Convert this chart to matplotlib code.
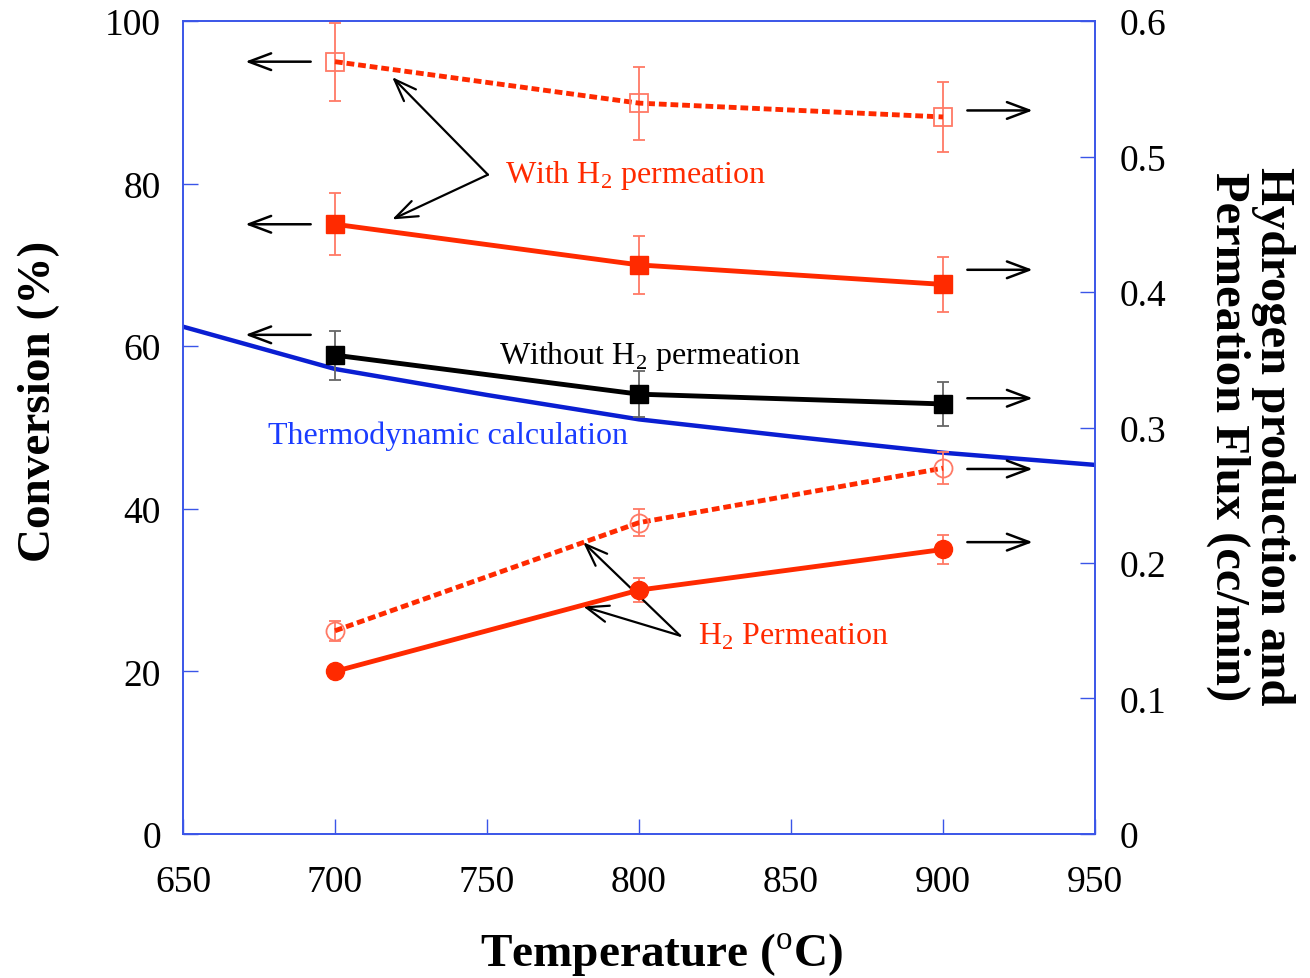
import numpy as np
import matplotlib.pyplot as plt

plt.rcParams["font.family"] = ["Liberation Serif", "DejaVu Serif"]
plt.rcParams["mathtext.fontset"] = "custom"
plt.rcParams["mathtext.rm"] = "Liberation Serif"

# Data
temp = [700, 800, 900]

conv_with = [95.0, 89.9, 88.2]          # open squares, dotted
conv_with_err = [4.8, 4.5, 4.3]
prod_with = [75.0, 70.0, 67.6]          # filled squares, solid
prod_with_err = [3.8, 3.6, 3.4]
without = [58.9, 54.1, 52.9]            # black squares
without_err = [3.0, 2.8, 2.7]
perm_open = [25.0, 38.3, 45.0]          # open circles, dotted
perm_open_err = [1.2, 1.7, 2.0]
perm_fill = [20.0, 30.0, 35.0]          # filled circles, solid
perm_fill_err = [0.5, 1.5, 1.8]

thermo_t = [650, 700, 750, 800, 850, 900, 950]
thermo = [62.4, 57.2, 54.0, 51.0, 48.9, 46.9, 45.4]

red = "#ff2a00"
red_err = "#ff7a66"
blue = "#0a1ed2"
axblue = "#3a55e8"

fig = plt.figure(figsize=(13.10, 9.79), dpi=100)
ax = fig.add_axes([0.1397, 0.1471, 0.6962, 0.8304])

# Thermodynamic line
ax.plot(thermo_t, thermo, color=blue, lw=3.2, zorder=2)

dot = (0, (1.6, 0.8))
eb = dict(fmt="none", elinewidth=1.3, capsize=4.5, capthick=1.3, zorder=3)

# With H2 permeation - conversion (open squares)
ax.errorbar(temp, conv_with, yerr=conv_with_err, ecolor=red_err, **eb)
ax.plot(temp, conv_with, color=red, lw=3.5, ls=dot, dash_capstyle="butt", zorder=4)
ax.plot(temp, conv_with, ls="none", marker="s", ms=13.5, mfc="none", mec=red_err,
        mew=1.3, zorder=5)

# With H2 permeation - production (filled squares)
ax.errorbar(temp, prod_with, yerr=prod_with_err, ecolor=red_err, **eb)
ax.plot(temp, prod_with, color=red, lw=3.5, marker="s", ms=13.5, mfc=red, mec=red,
        zorder=4)

# Without H2 permeation (black squares)
ax.errorbar(temp, without, yerr=without_err, ecolor="#666666", **eb)
ax.plot(temp, without, color="black", lw=3.5, marker="s", ms=13.5, mfc="black",
        mec="black", zorder=4)

# H2 permeation (open circles, dotted)
ax.errorbar(temp, perm_open, yerr=perm_open_err, ecolor=red_err, **eb)
ax.plot(temp, perm_open, color=red, lw=3.5, ls=dot, dash_capstyle="butt", zorder=4)
ax.plot(temp, perm_open, ls="none", marker="o", ms=13, mfc="none", mec=red_err,
        mew=1.3, zorder=5)

# H2 permeation (filled circles)
ax.errorbar(temp, perm_fill, yerr=perm_fill_err, ecolor=red_err, **eb)
ax.plot(temp, perm_fill, color=red, lw=3.5, marker="o", ms=13, mfc=red, mec=red,
        zorder=4)

ax.set_xlim(650, 950)
ax.set_ylim(0, 100)
ax.set_xticks([650, 700, 750, 800, 850, 900, 950])
ax.set_yticks([0, 20, 40, 60, 80, 100])
ax.tick_params(direction="in", length=11, width=1, color=axblue, labelsize=27,
               pad=16)
ax.tick_params(axis="x", pad=22)
for s in ax.spines.values():
    s.set_color(axblue)
    s.set_linewidth(1.2)

ax.set_xlabel("Temperature ($^{\\rm o}$C)", fontsize=34, fontweight="bold", labelpad=22)
ax.set_ylabel("Conversion (%)", fontsize=34, fontweight="bold", labelpad=32)
ax.xaxis.label.set_x(0.525)
ax.yaxis.label.set_y(0.533)

ax2 = ax.twinx()
ax2.set_ylim(0, 0.6)
ax2.set_yticks([0, 0.1, 0.2, 0.3, 0.4, 0.5, 0.6])
ax2.set_yticklabels(["0", "0.1", "0.2", "0.3", "0.4", "0.5", "0.6"])
ax2.tick_params(direction="in", length=11, width=1, color=axblue, labelsize=27,
                pad=18)
for s in ax2.spines.values():
    s.set_color(axblue)
    s.set_linewidth(1.2)
ax2.set_ylabel("Hydrogen production and\nPermeation Flux (cc/min)", fontsize=35,
               fontweight="bold", rotation=270, labelpad=92, linespacing=1.0)
ax2.yaxis.label.set_y(0.49)

# Axis-pointing arrows
arrow = dict(arrowstyle="->,head_length=1.6,head_width=0.6", color="black", lw=1.8,
             shrinkA=0, shrinkB=0)
for yv in [95.0, 75.0, 61.4]:
    ax.annotate("", xy=(670.5, yv), xytext=(692, yv), arrowprops=arrow)
for yv in [89.0, 69.4, 53.6, 44.9, 35.9]:
    ax.annotate("", xy=(929.5, yv), xytext=(908, yv), arrowprops=arrow)

# Labels with pointer arrows
ptr = dict(arrowstyle="->,head_length=1.6,head_width=0.6", color="black", lw=1.6,
           shrinkA=0, shrinkB=0)
ax.text(756, 81.1, "With H$_2$ permeation", color=red, fontsize=23,
        ha="left", va="center")
ax.annotate("", xy=(718.8, 93.1), xytext=(750.3, 81.1), arrowprops=ptr)
ax.annotate("", xy=(718.8, 75.6), xytext=(750.3, 81.1), arrowprops=ptr)

ax.text(754, 58.9, "Without H$_2$ permeation", color="black", fontsize=23,
        ha="left", va="center")
ax.text(678, 49.1, "Thermodynamic calculation", color="#1a3cff", fontsize=23,
        ha="left", va="center")

ax.text(819.5, 24.4, "H$_2$ Permeation", color=red, fontsize=23,
        ha="left", va="center")
ax.annotate("", xy=(781.6, 35.9), xytext=(813.5, 24.4), arrowprops=ptr)
ax.annotate("", xy=(781.6, 28.0), xytext=(813.5, 24.4), arrowprops=ptr)

fig.savefig("out.png", dpi=100)
